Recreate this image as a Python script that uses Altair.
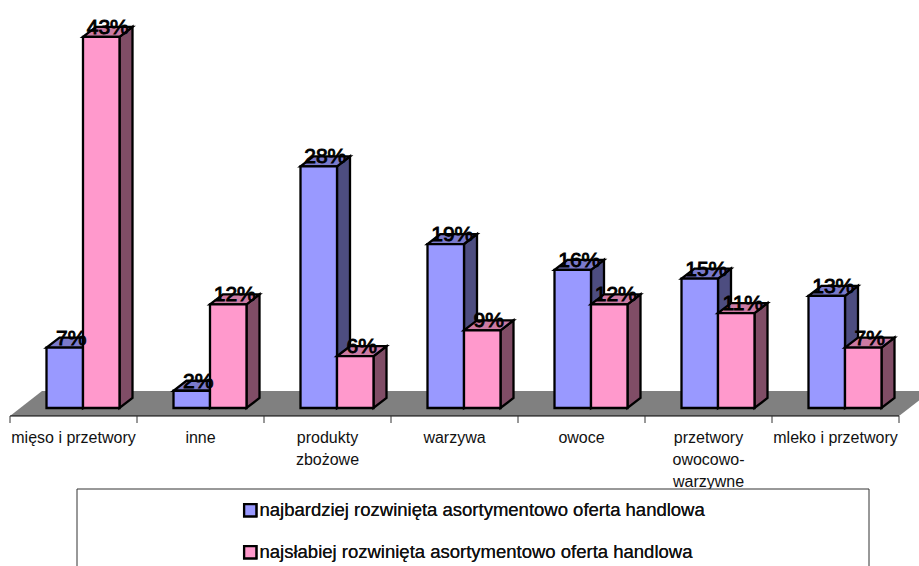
import altair as alt
import pandas as pd

# Survey shares per product group, in percent
categories = ["mięso i przetwory", "inne", "produkty\nzbożowe", "warzywa", "owoce",
              "przetwory\nowocowo-\nwarzywne", "mleko i przetwory"]
series = ["najbardziej rozwinięta asortymentowo oferta handlowa",
          "najsłabiej rozwinięta asortymentowo oferta handlowa"]
best_offer = [7, 2, 28, 19, 16, 15, 13]
worst_offer = [43, 12, 6, 9, 12, 11, 7]

FONT = "Liberation Sans"
W, H = 919, 566
X0, X_UNIT = 10.0, 127.0      # pixel of category 0 and pixels per category
Y0, Y_UNIT = 408.0, 8.63      # pixel of 0% and pixels per percentage point

BAR_START = 36.5 / X_UNIT     # gap before the first bar of a group
BAR_W = 36.5 / X_UNIT
DEPTH_X = 13.0 / X_UNIT       # oblique offset of the 3D faces
DEPTH_Y = 10.0 / Y_UNIT

FLOOR_FRONT = -8.0 / Y_UNIT
FLOOR_BACK = 17.0 / Y_UNIT
FLOOR_SHIFT = 32.0 / X_UNIT
TICK_END = -15.0 / Y_UNIT
LABEL_Y = -35.0 / Y_UNIT

x_scale = alt.Scale(domain=[-X0 / X_UNIT, (W - X0) / X_UNIT], nice=False, zero=False)
y_scale = alt.Scale(domain=[(Y0 - H) / Y_UNIT, Y0 / Y_UNIT], nice=False, zero=False)
X = lambda f: alt.X(f, type="quantitative", scale=x_scale, axis=None)
Y = lambda f: alt.Y(f, type="quantitative", scale=y_scale, axis=None)

faces = {
    0: dict(values=best_offer, front="#9999FF", side="#4D4D80", top="#7A7ACC"),
    1: dict(values=worst_offer, front="#FF99CC", side="#804D66", top="#CC7AA3"),
}
OUTLINE = dict(stroke="black", strokeWidth=2.3, strokeJoin="miter")

layers = []

# Floor of the 3D box
floor = pd.DataFrame({
    "y": [FLOOR_FRONT, FLOOR_BACK],
    "x": [0, FLOOR_SHIFT],
    "x2": [len(categories), len(categories) + FLOOR_SHIFT],
})
layers.append(alt.Chart(floor).mark_area(orient="horizontal", color="#808080", clip=True)
              .encode(y=Y("y"), x=X("x"), x2="x2"))

# Category axis line and tick marks
axis_line = pd.DataFrame({"x": [0], "x2": [len(categories)], "y": [FLOOR_FRONT]})
layers.append(alt.Chart(axis_line).mark_rule(color="black", strokeWidth=1.2)
              .encode(x=X("x"), x2="x2", y=Y("y")))
ticks = pd.DataFrame({"x": list(range(len(categories) + 1)), "y": FLOOR_FRONT, "y2": TICK_END})
layers.append(alt.Chart(ticks).mark_rule(color="#333333", strokeWidth=1)
              .encode(x=X("x"), y=Y("y"), y2="y2"))

labels = pd.DataFrame({"x": [i + 0.5 for i in range(len(categories))], "y": LABEL_Y, "t": categories})
layers.append(alt.Chart(labels).mark_text(font=FONT, fontSize=16, color="#111111", lineBreak="\n",
                                          lineHeight=22, baseline="alphabetic", align="center")
              .encode(x=X("x"), y=Y("y"), text="t:N"))

# Bars are painted back to front: side, top, then front face, one series after the other
for s, spec in faces.items():
    side_rows, top_rows, front_rows = [], [], []
    for i, v in enumerate(spec["values"]):
        left = i + BAR_START + s * BAR_W
        right = left + BAR_W
        side_rows += [dict(k=i, x=right, y=v, y2=0),
                      dict(k=i, x=right + DEPTH_X, y=v + DEPTH_Y, y2=DEPTH_Y)]
        top_rows += [dict(k=i, y=v, x=left, x2=right),
                     dict(k=i, y=v + DEPTH_Y, x=left + DEPTH_X, x2=right + DEPTH_X)]
        front_rows.append(dict(x=left, x2=right, y=v, y2=0, series=series[s]))
    layers.append(alt.Chart(pd.DataFrame(side_rows)).mark_area(color=spec["side"], **OUTLINE)
                  .encode(x=X("x"), y=Y("y"), y2="y2", detail="k:N"))
    layers.append(alt.Chart(pd.DataFrame(top_rows)).mark_area(orient="horizontal", color=spec["top"], **OUTLINE)
                  .encode(y=Y("y"), x=X("x"), x2="x2", detail="k:N"))
    layers.append(alt.Chart(pd.DataFrame(front_rows)).mark_rect(**OUTLINE).encode(
        x=X("x"), x2="x2", y=Y("y"), y2="y2",
        color=alt.Color("series:N", sort=series,
                        scale=alt.Scale(domain=series, range=[faces[0]["front"], faces[1]["front"]]),
                        legend=alt.Legend(orient="none", legendX=241, legendY=501, title=None,
                                          symbolType="square", symbolSize=150, symbolStrokeColor="black",
                                          symbolStrokeWidth=2.3, labelFont=FONT, labelFontSize=18.5,
                                          labelColor="#111111", labelLimit=600, labelOffset=0,
                                          rowPadding=20, zindex=1)),
    ))

# Value labels above the bars
value_rows = []
for s, spec in faces.items():
    for i, v in enumerate(spec["values"]):
        value_rows.append(dict(x=i + BAR_START + s * BAR_W + (BAR_W + DEPTH_X) / 2,
                               y=v + 3.0 / Y_UNIT, t=f"{v}%"))
layers.append(alt.Chart(pd.DataFrame(value_rows))
              .mark_text(font=FONT, fontSize=21, color="black", stroke="black", strokeWidth=0.9,
                         baseline="alphabetic", align="center")
              .encode(x=X("x"), y=Y("y"), text="t:N"))

# Legend frame, running past the bottom edge of the page
frame = pd.DataFrame({"x": [67.0 / X_UNIT], "x2": [859.0 / X_UNIT],
                      "y": [(Y0 - 489) / Y_UNIT], "y2": [(Y0 - 600) / Y_UNIT]})
layers.insert(-1, alt.Chart(frame).mark_rect(fill="white", stroke="#333333", strokeWidth=1, clip=True)
              .encode(x=X("x"), x2="x2", y=Y("y"), y2="y2"))

chart = (alt.layer(*layers)
         .resolve_scale(color="independent")
         .properties(width=W, height=H, padding=0, background="white",
                     autosize=alt.AutoSizeParams(type="none"))
         .configure_view(stroke=None))

chart.save("out.html", embed_options={"renderer": "svg", "actions": False})
